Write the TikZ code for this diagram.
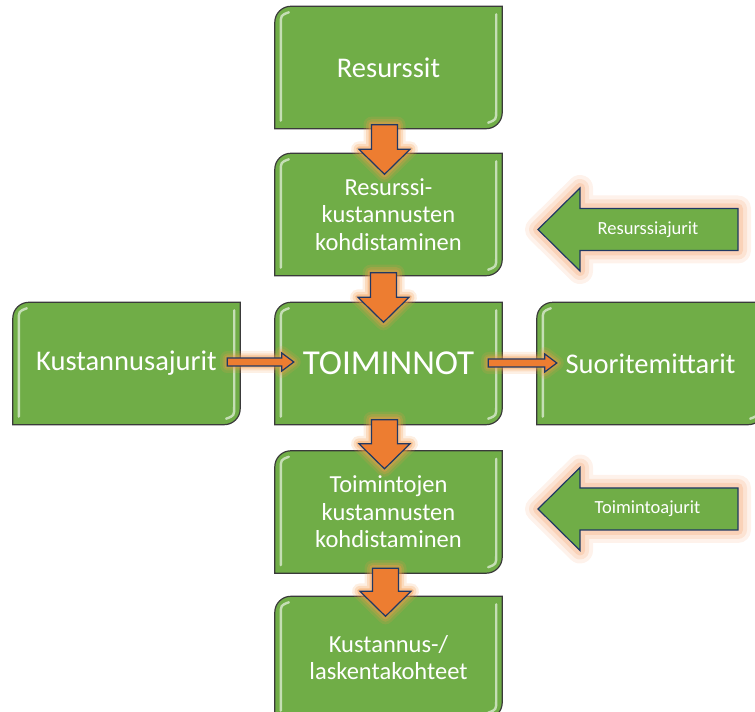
\documentclass[tikz,border=0pt]{standalone}
\usepackage{fontspec}
\setmainfont{Carlito}
\usetikzlibrary{calc,backgrounds}
\definecolor{gfill}{HTML}{70AD47}
\definecolor{gedge}{HTML}{3A3A3A}
\definecolor{afill}{HTML}{ED7D31}
\definecolor{aedge}{HTML}{203864}
\definecolor{glowo}{HTML}{F39A4A}
\definecolor{glowp}{HTML}{F6AE80}
\tikzset{
  gbox/.style={minimum width=227pt, minimum height=122pt, inner sep=0pt, text=white,
    align=center, font=\fontsize{28.5}{33}\selectfont},
  gtext3/.style={font=\fontsize{24.5}{27.5}\selectfont},
  boxshape/.style={fill=gfill, draw=gedge, line width=1.2pt},
  shine/.style={draw=white, draw opacity=0.6, line width=2.4pt, line cap=round},
  arrowbody/.style={fill=afill, draw=aedge, line width=1.2pt},
  greenarrow/.style={fill=gfill, draw=aedge, line width=1.2pt},
  arrowlabel/.style={text=white, inner sep=0pt, font=\fontsize{18.5}{22}\selectfont}
}
\newcommand\drawbox[1]{%
\begin{scope}[on background layer]
\filldraw[boxshape] ($(#1.north west)+(0,-16)$) .. controls ($(#1.north west)+(0,-7.2)$) and ($(#1.north west)+(7.2,0)$) .. ($(#1.north west)+(16,0)$)
  -- (#1.north east) -- ($(#1.south east)+(0,16)$) .. controls ($(#1.south east)+(0,7.2)$) and ($(#1.south east)+(-7.2,0)$) .. ($(#1.south east)+(-16,0)$)
  -- (#1.south west) -- cycle;
\draw[shine] ($(#1.south west)+(6,8)$) -- ($(#1.north west)+(6,-18)$) .. controls ($(#1.north west)+(6,-9)$) .. ($(#1.north west)+(14,-6)$);
\draw[shine] ($(#1.north east)+(-6,-8)$) -- ($(#1.south east)+(-6,18)$) .. controls ($(#1.south east)+(-6,9)$) .. ($(#1.south east)+(-14,6)$);
\end{scope}}
\newcommand\downblock[2]{%
\foreach \w/\o in {16/0.16,11/0.24,6/0.4}{%
  \draw[draw=glowo, draw opacity=\o, line width=\w pt, line join=round] let \p1=(#1), \p2=(#2) in
   (\x1-13pt,\y1) -- (\x1+13pt,\y1) -- (\x1+13pt,\y2+25pt) -- (\x1+25.5pt,\y2+25pt) -- (\x1,\y2)
   -- (\x1-25.5pt,\y2+25pt) -- (\x1-13pt,\y2+25pt) -- cycle;}
\filldraw[arrowbody] let \p1=(#1), \p2=(#2) in
   (\x1-13pt,\y1) -- (\x1+13pt,\y1) -- (\x1+13pt,\y2+25pt) -- (\x1+25.5pt,\y2+25pt) -- (\x1,\y2)
   -- (\x1-25.5pt,\y2+25pt) -- (\x1-13pt,\y2+25pt) -- cycle;}
\newcommand\rightblock[2]{%
\foreach \w/\o in {14/0.15,9/0.22,5/0.35}{%
  \draw[draw=glowo, draw opacity=\o, line width=\w pt, line join=round] let \p1=(#1), \p2=(#2) in
   (\x1,\y1-4pt) -- (\x2-12pt,\y1-4pt) -- (\x2-12pt,\y1-9pt) -- (\x2,\y1) -- (\x2-12pt,\y1+9pt)
   -- (\x2-12pt,\y1+4pt) -- (\x1,\y1+4pt) -- cycle;}
\filldraw[arrowbody] let \p1=(#1), \p2=(#2) in
   (\x1,\y1-4pt) -- (\x2-12pt,\y1-4pt) -- (\x2-12pt,\y1-9pt) -- (\x2,\y1) -- (\x2-12pt,\y1+9pt)
   -- (\x2-12pt,\y1+4pt) -- (\x1,\y1+4pt) -- cycle;}
\newcommand\leftblock[2]{%
\foreach \w/\o in {26/0.16,18/0.22,10/0.32}{%
  \draw[draw=glowp, draw opacity=\o, line width=\w pt, line join=round] let \p1=(#1), \p2=(#2) in
   (\x1,\y1) -- (\x1+42pt,\y1+41.5pt) -- (\x1+42pt,\y1+21pt) -- (\x2,\y1+21pt) -- (\x2,\y1-21pt)
   -- (\x1+42pt,\y1-21pt) -- (\x1+42pt,\y1-41.5pt) -- cycle;}
\filldraw[greenarrow] let \p1=(#1), \p2=(#2) in
   (\x1,\y1) -- (\x1+42pt,\y1+41.5pt) -- (\x1+42pt,\y1+21pt) -- (\x2,\y1+21pt) -- (\x2,\y1-21pt)
   -- (\x1+42pt,\y1-21pt) -- (\x1+42pt,\y1-41.5pt) -- cycle;}
\begin{document}
\begin{tikzpicture}[x=1pt,y=1pt]
\useasboundingbox (0,0) rectangle (755,712);
% boxes
\node[gbox] (b1) at (388.5,644.5) {Resurssit};
\node[gbox,gtext3] (b2) at (388.5,497.5) {Resurssi-\\kustannusten\\kohdistaminen};
\node[gbox,font=\fontsize{35}{40}\selectfont] (b3) at (388.5,348.5) {TOIMINNOT};
\node[gbox] (kl) at (126.5,348.5) {Kustannusajurit};
\node[gbox] (kr) at (650.5,348.5) {Suoritemittarit};
\node[gbox,gtext3] (b4) at (388.5,200) {Toimintojen\\kustannusten\\kohdistaminen};
\node[gbox,gtext3] (b5) at (388.5,54.5) {Kustannus-/\\laskentakohteet};
\drawbox{b1}\drawbox{b2}\drawbox{b3}\drawbox{kl}\drawbox{kr}\drawbox{b4}\drawbox{b5}
% down arrows
\downblock{$(b1.south)+(-4,4)$}{$(b2.north)+(-4,-21)$}
\downblock{$(b2.south)+(-5,3)$}{$(b3.north)+(-5,-20)$}
\downblock{$(b3.south)+(-4,5)$}{$(b4.north)+(-4,-18)$}
\downblock{$(b4.south)+(-3,5)$}{$(b5.north)+(-3,-20)$}
% horizontal arrows
\rightblock{$(kl.east)+(-13,1.5)$}{$(b3.west)+(19,1.5)$}
\rightblock{$(b3.east)+(-14,0.5)$}{$(kr.west)+(20,0.5)$}
% driver arrows
\coordinate (ra tip) at (538,482.5);
\coordinate (ra tail) at (738,482.5);
\coordinate (ta tip) at (538,203);
\coordinate (ta tail) at (738,203);
\leftblock{ra tip}{ra tail}
\leftblock{ta tip}{ta tail}
\node[arrowlabel] (ra) at (648,482.5) {Resurssiajurit};
\node[arrowlabel] (ta) at (647.5,203) {Toimintoajurit};
\end{tikzpicture}
\end{document}
